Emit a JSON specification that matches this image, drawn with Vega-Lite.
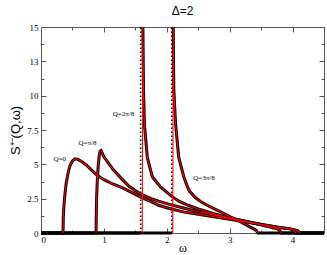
{
 "$schema": "https://vega.github.io/schema/vega-lite/v6.json",
 "width": 283,
 "height": 206,
 "autosize": {"type": "none"},
 "padding": {"left": 41, "top": 27, "right": 3, "bottom": 22},
 "title": {"text": "Δ=2", "font": "Liberation Sans", "fontSize": 12, "fontWeight": "normal", "offset": 3, "color": "#000"},
 "config": {
  "view": {"stroke": null},
  "axis": {"domainColor": "#555", "tickColor": "#555", "labelFont": "Liberation Serif", "labelFontSize": 9, "labelColor": "#000", "grid": false, "titleFontWeight": "normal", "titleColor": "#000"}
 },
 "datasets": {
  "numeric": [
   {"q":"0","part":"a","w":0,"s":0},{"q":"0","part":"a","w":0.35,"s":0},{"q":"0","part":"a","w":0.355,"s":1.2},{"q":"0","part":"a","w":0.365,"s":2.0},{"q":"0","part":"a","w":0.38,"s":2.8},{"q":"0","part":"a","w":0.40,"s":3.6},{"q":"0","part":"a","w":0.43,"s":4.35},{"q":"0","part":"a","w":0.46,"s":4.9},{"q":"0","part":"a","w":0.50,"s":5.25},{"q":"0","part":"a","w":0.54,"s":5.4},{"q":"0","part":"a","w":0.58,"s":5.38},{"q":"0","part":"a","w":0.64,"s":5.22},{"q":"0","part":"a","w":0.72,"s":4.95},{"q":"0","part":"a","w":0.80,"s":4.6},{"q":"0","part":"a","w":0.88,"s":4.25},{"q":"0","part":"a","w":1.0,"s":3.88},{"q":"0","part":"a","w":1.15,"s":3.55},{"q":"0","part":"a","w":1.28,"s":3.32},{"q":"0","part":"a","w":1.4,"s":3.05},{"q":"0","part":"a","w":1.57,"s":2.65},{"q":"0","part":"a","w":1.75,"s":2.28},{"q":"0","part":"a","w":1.88,"s":2.0},{"q":"0","part":"a","w":2.07,"s":1.75},{"q":"0","part":"a","w":2.28,"s":1.52},{"q":"0","part":"a","w":2.5,"s":1.36},{"q":"0","part":"a","w":2.75,"s":1.18},{"q":"0","part":"a","w":3.0,"s":1.0},{"q":"0","part":"a","w":3.25,"s":0.82},{"q":"0","part":"a","w":3.5,"s":0.62},{"q":"0","part":"a","w":3.75,"s":0.44},{"q":"0","part":"a","w":3.95,"s":0.3},{"q":"0","part":"a","w":4.02,"s":0.24},{"q":"0","part":"a","w":4.08,"s":0.18},{"q":"0","part":"a","w":4.12,"s":0},{"q":"0","part":"a","w":4.5,"s":0},
   {"q":"1","part":"a","w":0,"s":0},{"q":"1","part":"a","w":0.875,"s":0},{"q":"1","part":"a","w":0.88,"s":1.5},{"q":"1","part":"a","w":0.885,"s":2.6},{"q":"1","part":"a","w":0.895,"s":3.8},{"q":"1","part":"a","w":0.91,"s":4.9},{"q":"1","part":"a","w":0.925,"s":5.6},{"q":"1","part":"a","w":0.94,"s":5.95},{"q":"1","part":"a","w":0.955,"s":6.0},{"q":"1","part":"a","w":0.97,"s":5.85},{"q":"1","part":"a","w":1.0,"s":5.55},{"q":"1","part":"a","w":1.065,"s":5.15},{"q":"1","part":"a","w":1.15,"s":4.6},{"q":"1","part":"a","w":1.28,"s":3.96},{"q":"1","part":"a","w":1.4,"s":3.4},{"q":"1","part":"a","w":1.57,"s":2.87},{"q":"1","part":"a","w":1.75,"s":2.5},{"q":"1","part":"a","w":1.88,"s":2.3},{"q":"1","part":"a","w":2.07,"s":2.05},{"q":"1","part":"a","w":2.28,"s":1.8},{"q":"1","part":"a","w":2.5,"s":1.55},{"q":"1","part":"a","w":2.75,"s":1.3},{"q":"1","part":"a","w":3.0,"s":1.08},{"q":"1","part":"a","w":3.25,"s":0.85},{"q":"1","part":"a","w":3.5,"s":0.62},{"q":"1","part":"a","w":3.75,"s":0.42},{"q":"1","part":"a","w":3.97,"s":0.3},{"q":"1","part":"a","w":4.02,"s":0.2},{"q":"1","part":"a","w":4.05,"s":0},{"q":"1","part":"a","w":4.5,"s":0},
   {"q":"2","part":"a","w":0,"s":0},{"q":"2","part":"a","w":1.585,"s":0},
   {"q":"2","part":"b","w":1.62,"s":15},{"q":"2","part":"b","w":1.63,"s":10.4},{"q":"2","part":"b","w":1.645,"s":7.9},{"q":"2","part":"b","w":1.69,"s":5.5},{"q":"2","part":"b","w":1.77,"s":4.1},{"q":"2","part":"b","w":1.9,"s":3.36},{"q":"2","part":"b","w":2.09,"s":2.63},{"q":"2","part":"b","w":2.2,"s":2.3},{"q":"2","part":"b","w":2.35,"s":2.0},{"q":"2","part":"b","w":2.5,"s":1.75},{"q":"2","part":"b","w":2.75,"s":1.4},{"q":"2","part":"b","w":3.0,"s":1.1},{"q":"2","part":"b","w":3.25,"s":0.85},{"q":"2","part":"b","w":3.5,"s":0.6},{"q":"2","part":"b","w":3.7,"s":0.36},{"q":"2","part":"b","w":3.76,"s":0.32},{"q":"2","part":"b","w":3.8,"s":0.15},{"q":"2","part":"b","w":3.82,"s":0},{"q":"2","part":"b","w":4.5,"s":0},
   {"q":"3","part":"a","w":0,"s":0},{"q":"3","part":"a","w":2.078,"s":0},
   {"q":"3","part":"b","w":2.102,"s":15},{"q":"3","part":"b","w":2.112,"s":10.4},{"q":"3","part":"b","w":2.14,"s":7.95},{"q":"3","part":"b","w":2.19,"s":5.5},{"q":"3","part":"b","w":2.27,"s":4.1},{"q":"3","part":"b","w":2.33,"s":3.35},{"q":"3","part":"b","w":2.36,"s":3.05},{"q":"3","part":"b","w":2.45,"s":2.6},{"q":"3","part":"b","w":2.55,"s":2.25},{"q":"3","part":"b","w":2.65,"s":2.0},{"q":"3","part":"b","w":2.83,"s":1.6},{"q":"3","part":"b","w":3.0,"s":1.2},{"q":"3","part":"b","w":3.1,"s":0.97},{"q":"3","part":"b","w":3.2,"s":0.75},{"q":"3","part":"b","w":3.3,"s":0.5},{"q":"3","part":"b","w":3.38,"s":0.3},{"q":"3","part":"b","w":3.42,"s":0.2},{"q":"3","part":"b","w":3.45,"s":0},{"q":"3","part":"b","w":4.5,"s":0}
  ],
  "exact": [
   {"q":"0","w":0.35,"s":0},{"q":"0","w":0.355,"s":1.2},{"q":"0","w":0.365,"s":2.0},{"q":"0","w":0.38,"s":2.8},{"q":"0","w":0.40,"s":3.6},{"q":"0","w":0.43,"s":4.35},{"q":"0","w":0.46,"s":4.9},{"q":"0","w":0.50,"s":5.25},{"q":"0","w":0.54,"s":5.4},{"q":"0","w":0.58,"s":5.38},{"q":"0","w":0.64,"s":5.22},{"q":"0","w":0.72,"s":4.95},{"q":"0","w":0.80,"s":4.6},{"q":"0","w":0.88,"s":4.25},{"q":"0","w":1.0,"s":3.88},{"q":"0","w":1.15,"s":3.55},{"q":"0","w":1.28,"s":3.32},{"q":"0","w":1.4,"s":3.05},{"q":"0","w":1.57,"s":2.65},{"q":"0","w":1.75,"s":2.28},{"q":"0","w":1.88,"s":2.0},{"q":"0","w":2.07,"s":1.75},{"q":"0","w":2.28,"s":1.52},{"q":"0","w":2.5,"s":1.36},{"q":"0","w":2.75,"s":1.18},{"q":"0","w":3.0,"s":1.0},{"q":"0","w":3.25,"s":0.82},{"q":"0","w":3.5,"s":0.62},{"q":"0","w":3.75,"s":0.44},{"q":"0","w":3.95,"s":0.3},{"q":"0","w":4.02,"s":0.24},{"q":"0","w":4.08,"s":0.18},{"q":"0","w":4.12,"s":0},
   {"q":"1","w":0.875,"s":0},{"q":"1","w":0.88,"s":1.5},{"q":"1","w":0.885,"s":2.6},{"q":"1","w":0.895,"s":3.8},{"q":"1","w":0.91,"s":4.9},{"q":"1","w":0.925,"s":5.6},{"q":"1","w":0.94,"s":5.95},{"q":"1","w":0.955,"s":6.0},{"q":"1","w":0.97,"s":5.85},{"q":"1","w":1.0,"s":5.55},{"q":"1","w":1.065,"s":5.15},{"q":"1","w":1.15,"s":4.6},{"q":"1","w":1.28,"s":3.96},{"q":"1","w":1.4,"s":3.4},{"q":"1","w":1.57,"s":2.87},{"q":"1","w":1.75,"s":2.5},{"q":"1","w":1.88,"s":2.3},{"q":"1","w":2.07,"s":2.05},{"q":"1","w":2.28,"s":1.8},{"q":"1","w":2.5,"s":1.55},{"q":"1","w":2.75,"s":1.3},{"q":"1","w":3.0,"s":1.08},{"q":"1","w":3.25,"s":0.85},{"q":"1","w":3.5,"s":0.62},{"q":"1","w":3.75,"s":0.42},{"q":"1","w":3.97,"s":0.3},{"q":"1","w":4.02,"s":0.2},{"q":"1","w":4.05,"s":0},
   {"q":"2","w":1.61,"s":0},{"q":"2","w":1.62,"s":15},{"q":"2","w":1.63,"s":10.4},{"q":"2","w":1.645,"s":7.9},{"q":"2","w":1.69,"s":5.5},{"q":"2","w":1.77,"s":4.1},{"q":"2","w":1.9,"s":3.36},{"q":"2","w":2.09,"s":2.63},{"q":"2","w":2.2,"s":2.3},{"q":"2","w":2.35,"s":2.0},{"q":"2","w":2.5,"s":1.75},{"q":"2","w":2.75,"s":1.4},{"q":"2","w":3.0,"s":1.1},{"q":"2","w":3.25,"s":0.85},{"q":"2","w":3.5,"s":0.6},{"q":"2","w":3.7,"s":0.36},{"q":"2","w":3.76,"s":0.32},{"q":"2","w":3.8,"s":0.15},{"q":"2","w":3.82,"s":0},
   {"q":"3","w":2.095,"s":0},{"q":"3","w":2.102,"s":15},{"q":"3","w":2.112,"s":10.4},{"q":"3","w":2.14,"s":7.95},{"q":"3","w":2.19,"s":5.5},{"q":"3","w":2.27,"s":4.1},{"q":"3","w":2.33,"s":3.35},{"q":"3","w":2.36,"s":3.05},{"q":"3","w":2.45,"s":2.6},{"q":"3","w":2.55,"s":2.25},{"q":"3","w":2.65,"s":2.0},{"q":"3","w":2.83,"s":1.6},{"q":"3","w":3.0,"s":1.2},{"q":"3","w":3.1,"s":0.97},{"q":"3","w":3.2,"s":0.75},{"q":"3","w":3.3,"s":0.5},{"q":"3","w":3.38,"s":0.3},{"q":"3","w":3.42,"s":0.2},{"q":"3","w":3.45,"s":0}
  ],
  "edges": [
   {"q":"2","w":1.585,"s0":0,"s1":15},
   {"q":"3","w":2.078,"s0":0,"s1":15}
  ],
  "labels": [
   {"w":0.30,"s":5.42,"label":"Q=0"},
   {"w":0.74,"s":6.52,"label":"Q=π/8"},
   {"w":1.31,"s":8.66,"label":"Q=2π/8"},
   {"w":2.59,"s":3.97,"label":"Q=3π/8"}
  ]
 },
 "layer": [
  {
   "data": {"name": "numeric"},
   "mark": {"type": "line", "color": "#000", "strokeWidth": 3, "strokeCap": "butt"},
   "encoding": {
    "x": {"field": "w", "type": "quantitative", "scale": {"domain": [0, 4.5], "nice": false, "zero": false},
     "axis": {"orient": "bottom", "values": [0,0.5,1,1.5,2,2.5,3,3.5,4,4.5], "format": "~g",
      "labelExpr": "datum.value % 1 == 0 ? datum.label : ''",
      "tickSize": {"condition": {"test": "datum.value % 1 == 0", "value": -5}, "value": -3},
      "labelPadding": 7, "title": "ω", "titleFont": "Liberation Serif", "titleFontSize": 12, "titlePadding": -2}},
    "y": {"field": "s", "type": "quantitative", "scale": {"domain": [0, 15], "nice": false},
     "axis": {"orient": "left", "values": [0,1.25,2.5,3.75,5,6.25,7.5,8.75,10,11.25,12.5,13.75,15], "format": "~g",
      "labelExpr": "datum.value % 2.5 == 0 ? datum.label : ''",
      "tickSize": {"condition": {"test": "datum.value % 2.5 == 0", "value": -5}, "value": -3},
      "labelPadding": 8, "title": "S⁺⁻(Q,ω)", "titleFont": "Liberation Sans", "titleFontSize": 13, "titlePadding": 4}},
    "detail": [{"field": "q"}, {"field": "part"}]
   }
  },
  {
   "data": {"name": "edges"},
   "mark": {"type": "rule", "color": "#000", "strokeWidth": 1.5, "strokeDash": [1.5, 2.5]},
   "encoding": {
    "x": {"field": "w", "type": "quantitative", "axis": null},
    "y": {"field": "s0", "type": "quantitative", "axis": null},
    "y2": {"field": "s1"}
   }
  },
  {
   "data": {"name": "exact"},
   "mark": {"type": "line", "color": "#ff0000", "strokeWidth": 1.1},
   "encoding": {
    "x": {"field": "w", "type": "quantitative",
     "axis": {"orient": "top", "values": [0,0.5,1,1.5,2,2.5,3,3.5,4,4.5], "labels": false, "title": null,
      "tickSize": {"condition": {"test": "datum.value % 1 == 0", "value": -5}, "value": -3}}},
    "y": {"field": "s", "type": "quantitative",
     "axis": {"orient": "right", "values": [0,1.25,2.5,3.75,5,6.25,7.5,8.75,10,11.25,12.5,13.75,15], "labels": false, "title": null,
      "tickSize": {"condition": {"test": "datum.value % 2.5 == 0", "value": -5}, "value": -3}}},
    "detail": {"field": "q"}
   }
  },
  {
   "data": {"name": "labels"},
   "mark": {"type": "text", "font": "Liberation Serif", "fontSize": 7, "color": "#000", "align": "center", "baseline": "middle"},
   "encoding": {
    "x": {"field": "w", "type": "quantitative", "axis": null},
    "y": {"field": "s", "type": "quantitative", "axis": null},
    "text": {"field": "label"}
   }
  }
 ],
 "resolve": {"axis": {"x": "independent", "y": "independent"}}
}
